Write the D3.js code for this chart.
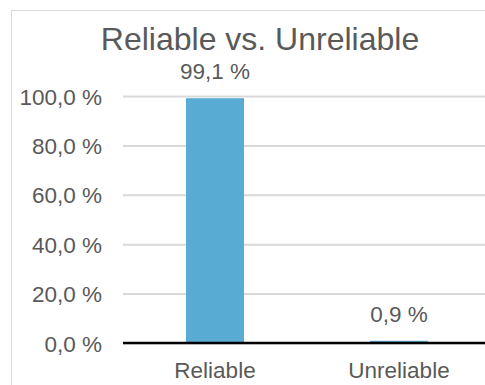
<!DOCTYPE html>
<html lang="en">
	<head>
		<meta charset="utf-8">
		<title>Reliable vs. Unreliable</title>
		<script src="https://d3js.org/d3.v7.min.js"></script>
		<style type="text/css">
			body {
				margin: 0;
				background: white;
			}
			text {
				font-family: 'Liberation Sans', Arial, Helvetica, sans-serif;
				fill: #595959;
			}
		</style>
	</head>
	<body>
		<script type="text/javascript">

			//Width and height
			var w = 485;
			var h = 385;

			//data
			var categories = ["Reliable", "Unreliable"];
			var values = [0.991, 0.009];
			var tickValues = [0, 0.2, 0.4, 0.6, 0.8, 1.0];

			//plot area (don't call it "top", window.top is read-only)
			var plotLeft = 123, plotRight = 491, plotTop = 96, plotBottom = 343;

			//"0,0 %" style labels
			var pct = function(d) {
				return d3.format(".1f")(d * 100).replace(".", ",") + " %";
			};

			var xScale = d3.scaleBand()
							.domain(categories)
							.range([plotLeft, plotRight])
							.paddingInner(0.685)
							.paddingOuter(0.3425);

			var yScale = d3.scaleLinear()
							.domain([0, 1])
							.range([plotBottom, plotTop]);

			var svg = d3.select("body")
						.append("svg")
						.attr("width", w)
						.attr("height", h);

			//chart frame (runs off the right and bottom)
			svg.append("rect")
			   .attr("x", 11.5)
			   .attr("y", 10.5)
			   .attr("width", w)
			   .attr("height", h)
			   .attr("fill", "none")
			   .attr("stroke", "#d9d9d9")
			   .attr("stroke-width", 1);

			//title
			svg.append("text")
			   .attr("x", 260)
			   .attr("y", 50)
			   .attr("text-anchor", "middle")
			   .style("font-size", "32px")
			   .text("Reliable vs. Unreliable");

			//gridlines + y labels
			var yAxis = svg.append("g")
						   .attr("transform", "translate(" + plotLeft + ",0)")
						   .call(d3.axisLeft(yScale)
								   .tickValues(tickValues)
								   .tickSize(-(w - plotLeft))
								   .tickPadding(21)
								   .tickFormat(pct));

			yAxis.select(".domain").remove();
			yAxis.selectAll(".tick line")
				 .attr("stroke", "#d9d9d9")
				 .attr("stroke-width", 2);
			yAxis.selectAll(".tick text")
				 .style("font-size", "22.5px")
				 .attr("fill", "#595959")
				 .attr("dy", "0.36em");

			//bars
			svg.selectAll("rect.bar")
			   .data(values)
			   .enter()
			   .append("rect")
			   .attr("class", "bar")
			   .attr("x", function(d, i) {
			   		return xScale(categories[i]);
			   })
			   .attr("y", function(d) {
			   		return yScale(d);
			   })
			   .attr("width", xScale.bandwidth())
			   .attr("height", function(d) {
			   		return plotBottom - yScale(d);
			   })
			   .attr("fill", "#58abd3");

			//value labels
			svg.selectAll("text.value")
			   .data(values)
			   .enter()
			   .append("text")
			   .attr("class", "value")
			   .attr("x", function(d, i) {
			   		return xScale(categories[i]) + xScale.bandwidth() / 2;
			   })
			   .attr("y", function(d) {
			   		return yScale(d) - 19;
			   })
			   .attr("text-anchor", "middle")
			   .style("font-size", "22.5px")
			   .text(pct);

			//x axis line
			svg.append("line")
			   .attr("x1", plotLeft)
			   .attr("x2", w)
			   .attr("y1", plotBottom)
			   .attr("y2", plotBottom)
			   .attr("stroke", "black")
			   .attr("stroke-width", 2.5);

			//category labels
			svg.selectAll("text.cat")
			   .data(categories)
			   .enter()
			   .append("text")
			   .attr("class", "cat")
			   .attr("x", function(d) {
			   		return xScale(d) + xScale.bandwidth() / 2;
			   })
			   .attr("y", plotBottom + 35)
			   .attr("text-anchor", "middle")
			   .style("font-size", "22.5px")
			   .text(function(d) { return d; });
		</script>
	</body>
</html>
